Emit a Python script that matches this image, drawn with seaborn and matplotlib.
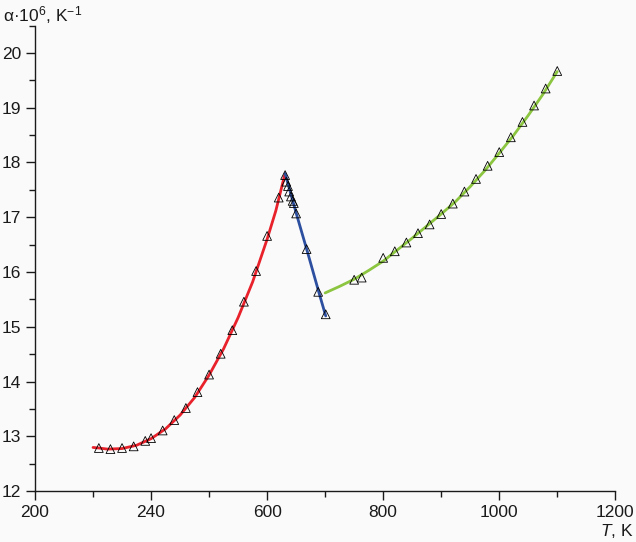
import matplotlib
matplotlib.use("Agg")
import matplotlib.pyplot as plt
import seaborn as sns
import pandas as pd

# ---- data ----
red_T = [310, 330, 350, 370, 390, 400, 420, 440, 460, 480, 500, 520, 540, 560, 581, 600, 620]
red_a = [12.79, 12.77, 12.79, 12.82, 12.92, 12.97, 13.11, 13.30, 13.52, 13.81, 14.13, 14.51, 14.94, 15.46, 16.02, 16.66, 17.36]
red_line_T = [300, 310, 325, 350, 375, 400, 425, 450, 475, 500, 525, 550, 575, 600, 615, 630]
red_line_a = [12.80, 12.79, 12.77, 12.78, 12.84, 12.96, 13.14, 13.39, 13.71, 14.12, 14.60, 15.17, 15.82, 16.60, 17.12, 17.76]

blue_T = [631, 633, 636, 638, 641, 644, 646, 650, 668, 688, 701]
blue_a = [17.77, 17.65, 17.57, 17.47, 17.38, 17.30, 17.26, 17.07, 16.42, 15.64, 15.23]
blue_line_T = [631, 650, 670, 690, 701]
blue_line_a = [17.80, 17.08, 16.35, 15.60, 15.20]

green_T = [750, 763, 800, 820, 840, 860, 880, 900, 920, 940, 960, 980, 1000, 1020, 1040, 1060, 1080, 1100]
green_a = [15.86, 15.90, 16.26, 16.38, 16.54, 16.71, 16.87, 17.06, 17.25, 17.47, 17.70, 17.94, 18.19, 18.46, 18.74, 19.04, 19.35, 19.67]
green_line_T = [700, 725, 750, 775, 800, 825, 850, 875, 900, 925, 950, 975, 1000, 1025, 1050, 1075, 1100]
green_line_a = [15.62, 15.74, 15.87, 16.03, 16.20, 16.41, 16.62, 16.84, 17.06, 17.29, 17.56, 17.85, 18.17, 18.50, 18.86, 19.24, 19.66]

x_ticks = [200, 400, 600, 800, 1000, 1200]
x_tick_labels = ["200", "240", "600", "800", "1000", "1200"]
y_ticks = [12, 13, 14, 15, 16, 17, 18, 19, 20]

sns.set_style("ticks")
plt.rcParams['font.family'] = ['Liberation Sans', 'DejaVu Sans']
plt.rcParams['mathtext.fontset'] = 'custom'
plt.rcParams['mathtext.rm'] = 'Liberation Sans'
plt.rcParams['mathtext.it'] = 'Liberation Sans:italic'

bg = '#fafafa'
fig = plt.figure(figsize=(6.36, 5.42), dpi=100, facecolor=bg)
ax = fig.add_axes([35/636, 50.7/542, 580.3/636, 465.8/542])
ax.set_facecolor(bg)

RED, BLUE, GREEN = '#e8212b', '#2d4fa0', '#8cc540'
sns.lineplot(x=red_line_T, y=red_line_a, color=RED, lw=2.0, sort=False, ax=ax, zorder=2)
sns.lineplot(x=blue_line_T, y=blue_line_a, color=BLUE, lw=2.0, sort=False, ax=ax, zorder=2)
sns.lineplot(x=green_line_T, y=green_line_a, color=GREEN, lw=2.0, sort=False, ax=ax, zorder=2)

n_before = len(ax.collections)
for T, a in [(red_T, red_a), (blue_T, blue_a), (green_T, green_a)]:
    sns.scatterplot(x=T, y=a, marker='^', s=40, color='black', linewidth=0.6, ax=ax, zorder=3)
for coll in ax.collections[n_before:]:
    coll.set_facecolor('none')
    coll.set_edgecolor('black')
    coll.set_linewidth(0.6)

ax.set_xlim(200, 1200)
ax.set_ylim(12, 20.5)
ax.set_xticks(x_ticks)
ax.set_xticklabels(x_tick_labels)
ax.set_yticks(y_ticks)
ax.set_xticks([300, 500, 700, 900, 1100], minor=True)
ax.set_yticks([12.5, 13.5, 14.5, 15.5, 16.5, 17.5, 18.5, 19.5, 20.5], minor=True)
ax.tick_params(which='major', direction='out', length=6.5, width=1.0, labelsize=12.5, pad=3.5, colors='#1a1a1a')
ax.tick_params(which='minor', direction='out', length=4.3, width=1.0, colors='#1a1a1a')
for s in ['top', 'right']:
    ax.spines[s].set_visible(False)
for s in ['left', 'bottom']:
    ax.spines[s].set_linewidth(1.0)
    ax.spines[s].set_color('#1a1a1a')
ax.set_xlabel('')
ax.set_ylabel('')

fig.text(3/636, 1 - 21/542, 'α·10$^{6}$, K$^{\\mathrm{-1}}$', fontsize=12.5, ha='left', va='baseline', color='#1a1a1a')
fig.text(634/636, 1 - 536/542, r'$T$, K', fontsize=12.5, ha='right', va='baseline', color='#1a1a1a')

fig.savefig('out.png', dpi=100, facecolor=bg)
